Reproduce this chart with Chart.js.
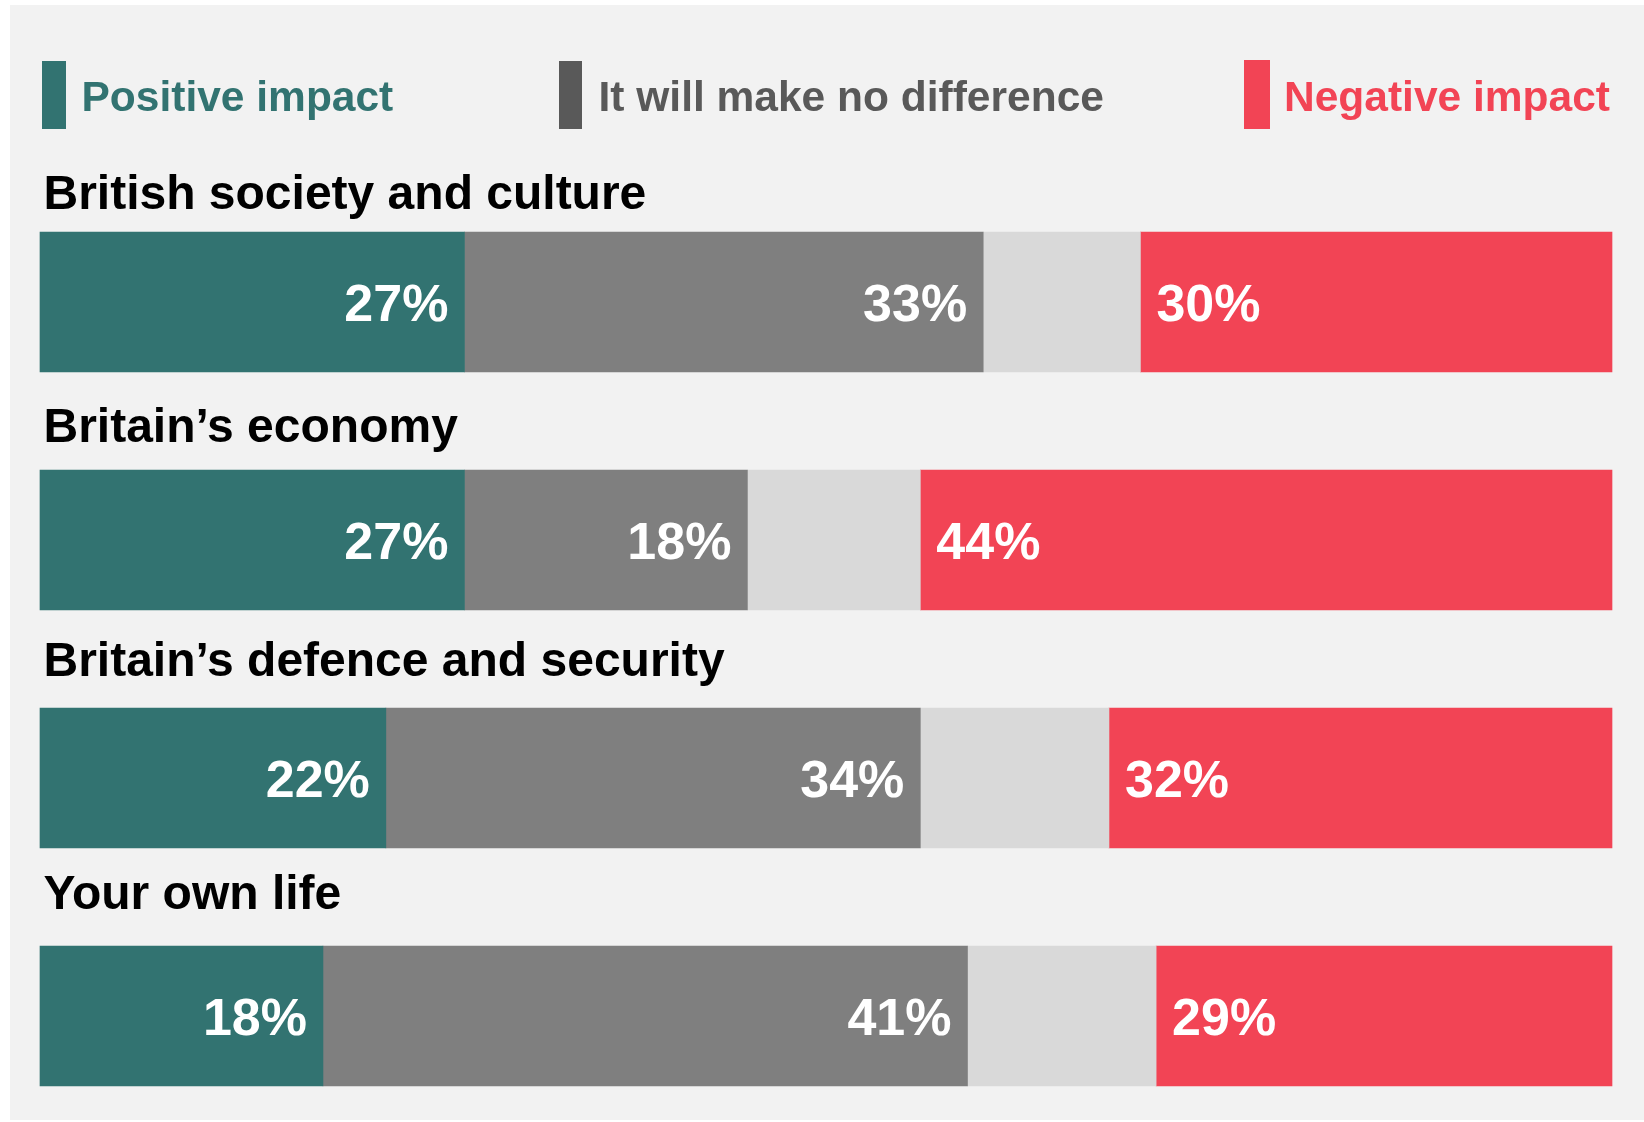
<!DOCTYPE html>
<html>
<head>
<meta charset="utf-8">
<script src="https://cdn.jsdelivr.net/npm/chart.js@4"></script>
<style>
  html, body { margin: 0; padding: 0; background: #ffffff; }
  #panel { position: absolute; left: 10px; top: 5px; width: 1634px; height: 1115px; background: #f2f2f2; }
  #c { display: block; }
</style>
</head>
<body>
<div id="panel"><canvas id="c" width="1634" height="1115" style="width:1634px;height:1115px"></canvas></div>
<script>
const categories = ["British society and culture", "Britain’s economy", "Britain’s defence and security", "Your own life"];
const positive = [27, 27, 22, 18];
const noDifference = [33, 18, 34, 41];
const dontKnow = [10, 11, 12, 12];
const negative = [30, 44, 32, 29];
const seriesNames = ["Positive impact", "It will make no difference", "Don't know", "Negative impact"];
const legendNames = ["Positive impact", "It will make no difference", "Negative impact"];

const GREEN = "#327371", GRAY = "#7f7f7f", LIGHT = "#d9d9d9", RED = "#f24455";
const LEGEND_GRAY = "#595959";
const FONT = "'Liberation Sans', Arial, sans-serif";

const legendPlugin = {
  id: 'customLegend',
  afterDraw(chart) {
    const ctx = chart.ctx;
    const items = [
      { label: legendNames[0], color: GREEN, sx: 32, sw: 24, sy: 56, sh: 68, tx: 71.5 },
      { label: legendNames[1], color: LEGEND_GRAY, sx: 549, sw: 23, sy: 56, sh: 68, tx: 588.5 },
      { label: legendNames[2], color: RED, sx: 1234, sw: 26, sy: 55, sh: 69, tx: 1274 }
    ];
    ctx.save();
    ctx.font = "bold 42.5px " + FONT;
    ctx.textBaseline = 'alphabetic';
    ctx.textAlign = 'left';
    items.forEach(it => {
      ctx.fillStyle = it.color;
      ctx.fillRect(it.sx, it.sy, it.sw, it.sh);
      ctx.fillText(it.label, it.tx, 106);
    });
    ctx.restore();
  }
};

const labelPlugin = {
  id: 'barLabels',
  afterDatasetsDraw(chart) {
    const ctx = chart.ctx;
    ctx.save();
    // category titles above each bar
    const meta0 = chart.getDatasetMeta(0);
    ctx.font = "bold 48px " + FONT;
    ctx.fillStyle = "#000000";
    ctx.textAlign = 'left';
    ctx.textBaseline = 'alphabetic';
    meta0.data.forEach((bar, i) => {
      const p = bar.getProps(['y', 'height'], true);
      ctx.fillText(chart.data.labels[i], 33.5, p.y - p.height / 2 - 23.5 - i * 4.5);
    });
    // values
    ctx.font = "bold 52px " + FONT;
    ctx.fillStyle = "#ffffff";
    [0, 1, 3].forEach(di => {
      const meta = chart.getDatasetMeta(di);
      const vals = chart.data.datasets[di].data;
      meta.data.forEach((bar, i) => {
        const p = bar.getProps(['x', 'y', 'base'], true);
        const txt = vals[i] + '%';
        if (di === 3) {
          ctx.textAlign = 'left';
          ctx.fillText(txt, Math.min(p.x, p.base) + 16, p.y + 19);
        } else {
          ctx.textAlign = 'right';
          ctx.fillText(txt, Math.max(p.x, p.base) - 16, p.y + 19);
        }
      });
    });
    ctx.restore();
  }
};

new Chart(document.getElementById('c'), {
  type: 'bar',
  data: {
    labels: categories,
    datasets: [
      { label: seriesNames[0], data: positive, backgroundColor: GREEN },
      { label: seriesNames[1], data: noDifference, backgroundColor: GRAY },
      { label: seriesNames[2], data: dontKnow, backgroundColor: LIGHT },
      { label: seriesNames[3], data: negative, backgroundColor: RED }
    ].map(d => Object.assign(d, { borderWidth: 0, barThickness: 140, clip: false }))
  },
  options: {
    indexAxis: 'y',
    responsive: false,
    maintainAspectRatio: false,
    animation: false,
    layout: { padding: { left: 30, right: 32, top: 297, bottom: 104 } },
    scales: {
      x: { stacked: true, min: 0, max: 100, display: false },
      y: { stacked: true, display: false, offset: false }
    },
    plugins: {
      legend: { display: false },
      tooltip: { enabled: false }
    }
  },
  plugins: [legendPlugin, labelPlugin]
});
</script>
</body>
</html>
